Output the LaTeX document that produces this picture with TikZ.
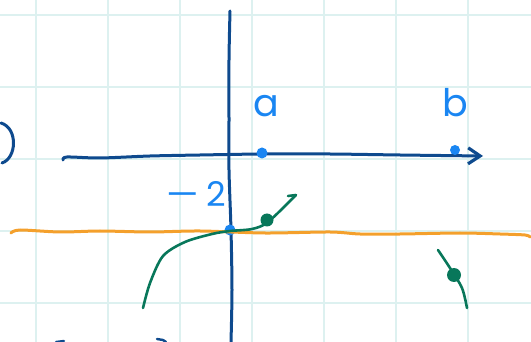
\documentclass[tikz,border=0pt]{standalone}
\usepackage{fontspec}
\usepackage{graphicx}
\setmainfont{Poppins}
\usetikzlibrary{arrows.meta}
\definecolor{ink}{HTML}{0E4A8E}
\definecolor{pen}{HTML}{1A86F2}
\definecolor{amber}{HTML}{F4A02C}
\definecolor{leaf}{HTML}{08775A}
\definecolor{paper}{HTML}{DDF1F0}
\begin{document}
\begin{tikzpicture}[x=0.5pt,y=-0.5pt,line cap=round,line join=round,
grid/.style={paper,line width=1.2pt},
axis/.style={ink,line width=1.5pt},
level/.style={amber,line width=1.5pt},
curve/.style={leaf,line width=1.3pt},
dot/.style={circle,inner sep=0pt,minimum size=#1},
label/.style={pen,font=\fontsize{19}{20}\selectfont,anchor=base}]
\useasboundingbox (0,0) rectangle (531,342);
% squared paper
\foreach \x in {36,108,...,468} \draw[grid] (\x,0) -- (\x,342);
\foreach \y in {15,87,159,231,303} \draw[grid] (0,\y) -- (531,\y);
% axes
\coordinate (top) at (230,11);
\coordinate (tail) at (63,160);
\coordinate (tip) at (483,156);
\draw[axis] plot[smooth] coordinates {(top) (229,60) (229,120) (229,170) (231,230) (232,290) (231,342)};
\draw[axis,-{Straight Barb[length=6pt,width=8pt,line width=1.6pt]}] plot[smooth] coordinates
  {(tail) (67,157) (100,158) (150,156) (200,155) (262,154) (330,154) (400,155) (tip)};
\draw[axis] (1,123) .. controls (18,128) and (17,158) .. (2,163);
\draw[axis,line width=1.2pt] (56,342) -- (64,341);
\draw[axis,line width=1.2pt] (157,339) -- (163,340) -- (166,342);
% points and labels
\node[dot=5.5pt,fill=pen] (pa) at (262,153) {};
\node[dot=5pt,fill=pen] (pb) at (455,150) {};
\node[dot=5.5pt,fill=pen] (p0) at (230,230) {};
\node[label] (la) at (266,117) {a};
\node[label] (lb) at (455,117) {b};
\node[label,font=\fontsize{17}{18}\selectfont] (lm) at (196,207) {\scalebox{1.5}[1]{–}\hspace{3pt}2};
% level line
\draw[level] plot[smooth] coordinates {(11,233) (20,230) (60,232) (100,231) (150,232) (200,231)
  (265,233) (330,232) (360,234) (400,234) (460,233) (500,234) (525,235) (530,237)};
% graph
\draw[curve] plot[smooth] coordinates {(143,308) (150,283) (163,256) (185,242) (212,234)
  (230,231) (252,229) (268,222) (296,195)};
\draw[curve] (296,195) -- (288,196);
\node[dot=6.5pt,fill=leaf] (g1) at (267,220) {};
\draw[curve] plot[smooth] coordinates {(438,250) (450,268) (462,288) (467,308)};
\node[dot=7pt,fill=leaf] (g2) at (454,275) {};
\end{tikzpicture}
\end{document}
